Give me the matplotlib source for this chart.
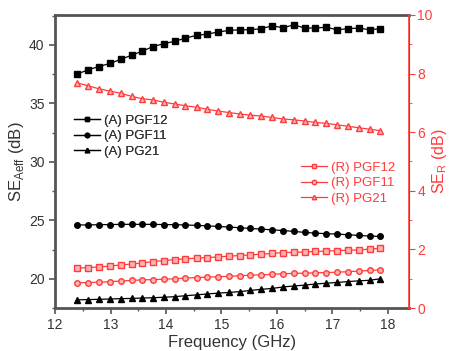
import matplotlib
matplotlib.use("Agg")
import matplotlib.pyplot as plt
from matplotlib.ticker import MultipleLocator

plt.rcParams["font.family"] = ["Liberation Sans", "DejaVu Sans"]

# frequency points (GHz)
freq = [12.40, 12.60, 12.79, 12.99, 13.18, 13.38, 13.57, 13.77, 13.96, 14.16,
        14.35, 14.55, 14.74, 14.94, 15.13, 15.33, 15.52, 15.72, 15.91, 16.11,
        16.30, 16.50, 16.69, 16.89, 17.08, 17.28, 17.47, 17.67, 17.86]

# SE_Aeff (left axis, dB)
a_pgf12 = [37.50, 37.86, 38.14, 38.40, 38.75, 39.10, 39.45, 39.85, 40.09, 40.30,
           40.57, 40.80, 40.91, 41.09, 41.22, 41.28, 41.28, 41.37, 41.62, 41.45,
           41.70, 41.43, 41.43, 41.50, 41.28, 41.37, 41.43, 41.28, 41.37]
a_pgf11 = [24.60, 24.60, 24.62, 24.63, 24.65, 24.65, 24.65, 24.65, 24.63, 24.62,
           24.60, 24.56, 24.52, 24.47, 24.42, 24.36, 24.30, 24.24, 24.18, 24.12,
           24.05, 23.96, 23.90, 23.85, 23.82, 23.76, 23.70, 23.65, 23.62]
a_pg21 = [18.20, 18.22, 18.24, 18.27, 18.30, 18.32, 18.35, 18.38, 18.42, 18.47,
          18.55, 18.62, 18.70, 18.77, 18.83, 18.90, 19.00, 19.10, 19.17, 19.30,
          19.38, 19.46, 19.55, 19.62, 19.68, 19.76, 19.82, 19.87, 20.00]

# SE_R (right axis, dB)
r_pgf12 = [1.36, 1.38, 1.40, 1.43, 1.47, 1.50, 1.54, 1.58, 1.62, 1.65,
           1.68, 1.70, 1.72, 1.74, 1.77, 1.79, 1.81, 1.84, 1.86, 1.89,
           1.90, 1.91, 1.93, 1.94, 1.96, 1.97, 1.98, 2.01, 2.04]
r_pgf11 = [0.86, 0.87, 0.88, 0.90, 0.92, 0.94, 0.96, 0.97, 0.98, 1.00,
           1.02, 1.04, 1.05, 1.07, 1.08, 1.10, 1.12, 1.13, 1.15, 1.17,
           1.18, 1.19, 1.20, 1.21, 1.22, 1.24, 1.26, 1.28, 1.30]
r_pg21 = [7.68, 7.58, 7.48, 7.40, 7.33, 7.22, 7.14, 7.10, 7.02, 6.96,
          6.90, 6.85, 6.78, 6.72, 6.67, 6.62, 6.58, 6.55, 6.50, 6.45,
          6.42, 6.38, 6.33, 6.30, 6.25, 6.20, 6.15, 6.10, 6.05]

RED = "#ff3b3b"
GREY = "#555555"

fig = plt.figure(figsize=(4.51, 3.51), dpi=100)
ax1 = fig.add_axes([0.122, 0.1225, 0.785, 0.835])
ax2 = ax1.twinx()

kw = dict(lw=0.9, ms=4)
l1, = ax1.plot(freq, a_pgf12, "s-", color="black", label="(A) PGF12", **kw)
l2, = ax1.plot(freq, a_pgf11, "o-", color="black", label="(A) PGF11", **kw)
l3, = ax1.plot(freq, a_pg21, "^-", color="black", label="(A) PG21", **kw)

rkw = dict(lw=0.9, ms=4, color=RED, mfc="#ffb3b3", mec=RED)
r1, = ax2.plot(freq, r_pgf12, "s-", label="(R) PGF12", **rkw)
r2, = ax2.plot(freq, r_pgf11, "o-", label="(R) PGF11", **rkw)
r3, = ax2.plot(freq, r_pg21, "^-", label="(R) PG21", **rkw)

ax1.set_xlim(12, 18.38)
ax1.set_ylim(17.5, 42.55)
ax2.set_ylim(0, 10)
ax1.xaxis.set_major_locator(MultipleLocator(1))
ax1.xaxis.set_minor_locator(MultipleLocator(0.5))
ax1.yaxis.set_major_locator(MultipleLocator(5))
ax1.yaxis.set_minor_locator(MultipleLocator(2.5))
ax2.yaxis.set_major_locator(MultipleLocator(2))
ax2.yaxis.set_minor_locator(MultipleLocator(1))

for s in ["left", "bottom", "top"]:
    ax1.spines[s].set_color(GREY)
    ax1.spines[s].set_linewidth(2)
ax2.spines["right"].set_color(RED)
ax2.spines["right"].set_linewidth(1.2)
for s in ["left", "bottom", "top"]:
    ax2.spines[s].set_visible(False)

ax1.tick_params(which="both", direction="out", colors=GREY, labelsize=10, labelcolor="#333333")
ax1.tick_params(which="major", length=4, width=1.2)
ax1.tick_params(which="minor", length=2, width=1)
ax2.tick_params(which="both", direction="out", colors=RED, labelsize=10)
ax2.tick_params(which="major", length=4, pad=2)
ax2.tick_params(which="minor", length=2)

ax1.set_xlabel("Frequency (GHz)", fontsize=12, color="#333333", labelpad=2)
ax1.set_ylabel(r"SE$_{\mathregular{Aeff}}$ (dB)", fontsize=12, color="#333333", labelpad=2)
ax2.set_ylabel(r"SE$_{\mathregular{R}}$ (dB)", fontsize=11.5, color=RED)
ax2.yaxis.set_label_coords(1.058, 0.5)

leg1 = ax1.legend(handles=[l1, l2, l3], loc="upper left", bbox_to_anchor=(0.02, 0.70),
                  frameon=False, fontsize=9.5, handlelength=2.0, handletextpad=0.3,
                  labelspacing=0.25, labelcolor="#333333", markerscale=0.8)
ax1.add_artist(leg1)
ax2.legend(handles=[r1, r2, r3], loc="upper left", bbox_to_anchor=(0.66, 0.54),
           frameon=False, fontsize=9.5, handlelength=2.0, handletextpad=0.3,
           labelspacing=0.25, labelcolor=RED, markerscale=0.8)

fig.savefig("out.png", dpi=100)
